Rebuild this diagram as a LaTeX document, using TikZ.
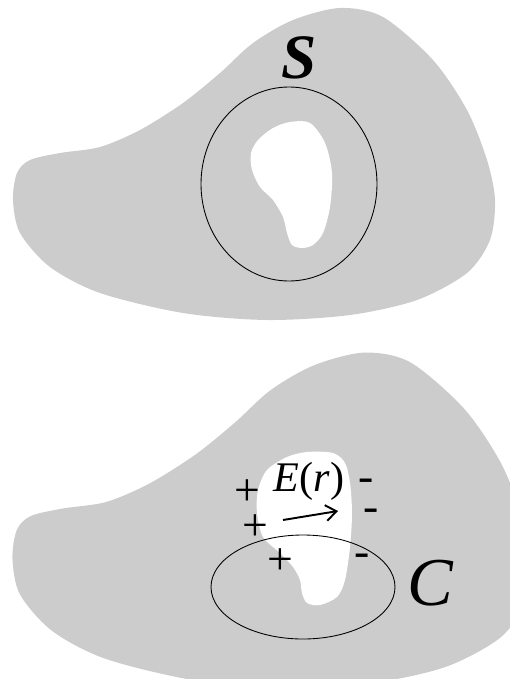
\documentclass[tikz,border=0pt]{standalone}
\usepackage{fontspec}
\setmainfont{Liberation Serif}
\usetikzlibrary{arrows.meta}
\definecolor{blobgray}{RGB}{204,204,204}
\begin{document}
\begin{tikzpicture}[
    x=0.02cm, y=-0.02cm,
    body/.style={fill=blobgray, draw=none},
    hole/.style={fill=white, draw=none},
    loopline/.style={draw=black, line width=0.5pt},
    sign/.style={font=\fontsize{26}{26}\selectfont, inner sep=0pt},
    biglabel/.style={inner sep=0pt},
  ]
  \useasboundingbox (0,0) rectangle (510,679);
  \clip (0,0) rectangle (510,679);
  \def\blobpath{plot[smooth cycle] coordinates {
    (253,43) (293,20) (340,8) (383,17) (433,60) (467,110) (487,160)
    (495,200) (490,240) (467,273) (417,300) (350,315) (267,320)
    (183,313) (100,293) (50,267) (20,233) (13,200) (17,173) (30,160)
    (60,153) (100,147) (140,130) (183,103) (220,73)}}

  % --- top: surface S around the hole ---
  \fill[body] \blobpath;
  \fill[hole] plot[smooth cycle] coordinates {
    (310,123) (325,143) (332,173) (330,207) (323,233) (313,245) (302,248)
    (292,245) (287,233) (283,217) (273,200) (260,187) (252,170) (251,153)
    (258,140) (273,128) (290,122)};
  \draw[loopline] (289,184) ellipse [x radius=88, y radius=97];
  \node[biglabel, font=\fontsize{36}{36}\selectfont\bfseries\itshape] (lblS) at (299,58) {S};

  % --- bottom: loop C through the hole ---
  \begin{scope}[shift={(-1.5,344)}, scale=1.075]
    \fill[body] \blobpath;
  \end{scope}
  \fill[hole] plot[smooth cycle] coordinates {
    (333,453) (345,463) (350,483) (352,513) (350,547) (345,580) (337,597)
    (320,605) (307,603) (302,593) (300,580) (293,567) (280,553) (263,537)
    (257,513) (258,490) (267,470) (287,457) (307,452)};
  \draw[loopline] (303,587) ellipse [x radius=92, y radius=52];
  \node[biglabel, font=\fontsize{39}{39}\selectfont\itshape] (lblC) at (430,583) {C};

  % field inside the hole
  \node[biglabel, font=\fontsize{24}{24}\selectfont] (lblE) at (309,481) {\textit{E}(\textit{r})};
  \coordinate (ftail) at (283,520);
  \coordinate (fhead) at (338,511);
  \draw[line width=1.1pt, -{Straight Barb[length=6pt, width=9pt]}] (ftail) -- (fhead);

  % charges on the two sides
  \node[sign] (plusA) at (247,493) {+};
  \node[sign] (plusB) at (255,528) {+};
  \node[sign] (plusC) at (280,562) {+};
  \node[sign] (minusA) at (366,485) {-};
  \node[sign] (minusB) at (371,515) {-};
  \node[sign] (minusC) at (362,560) {-};
\end{tikzpicture}
\end{document}
